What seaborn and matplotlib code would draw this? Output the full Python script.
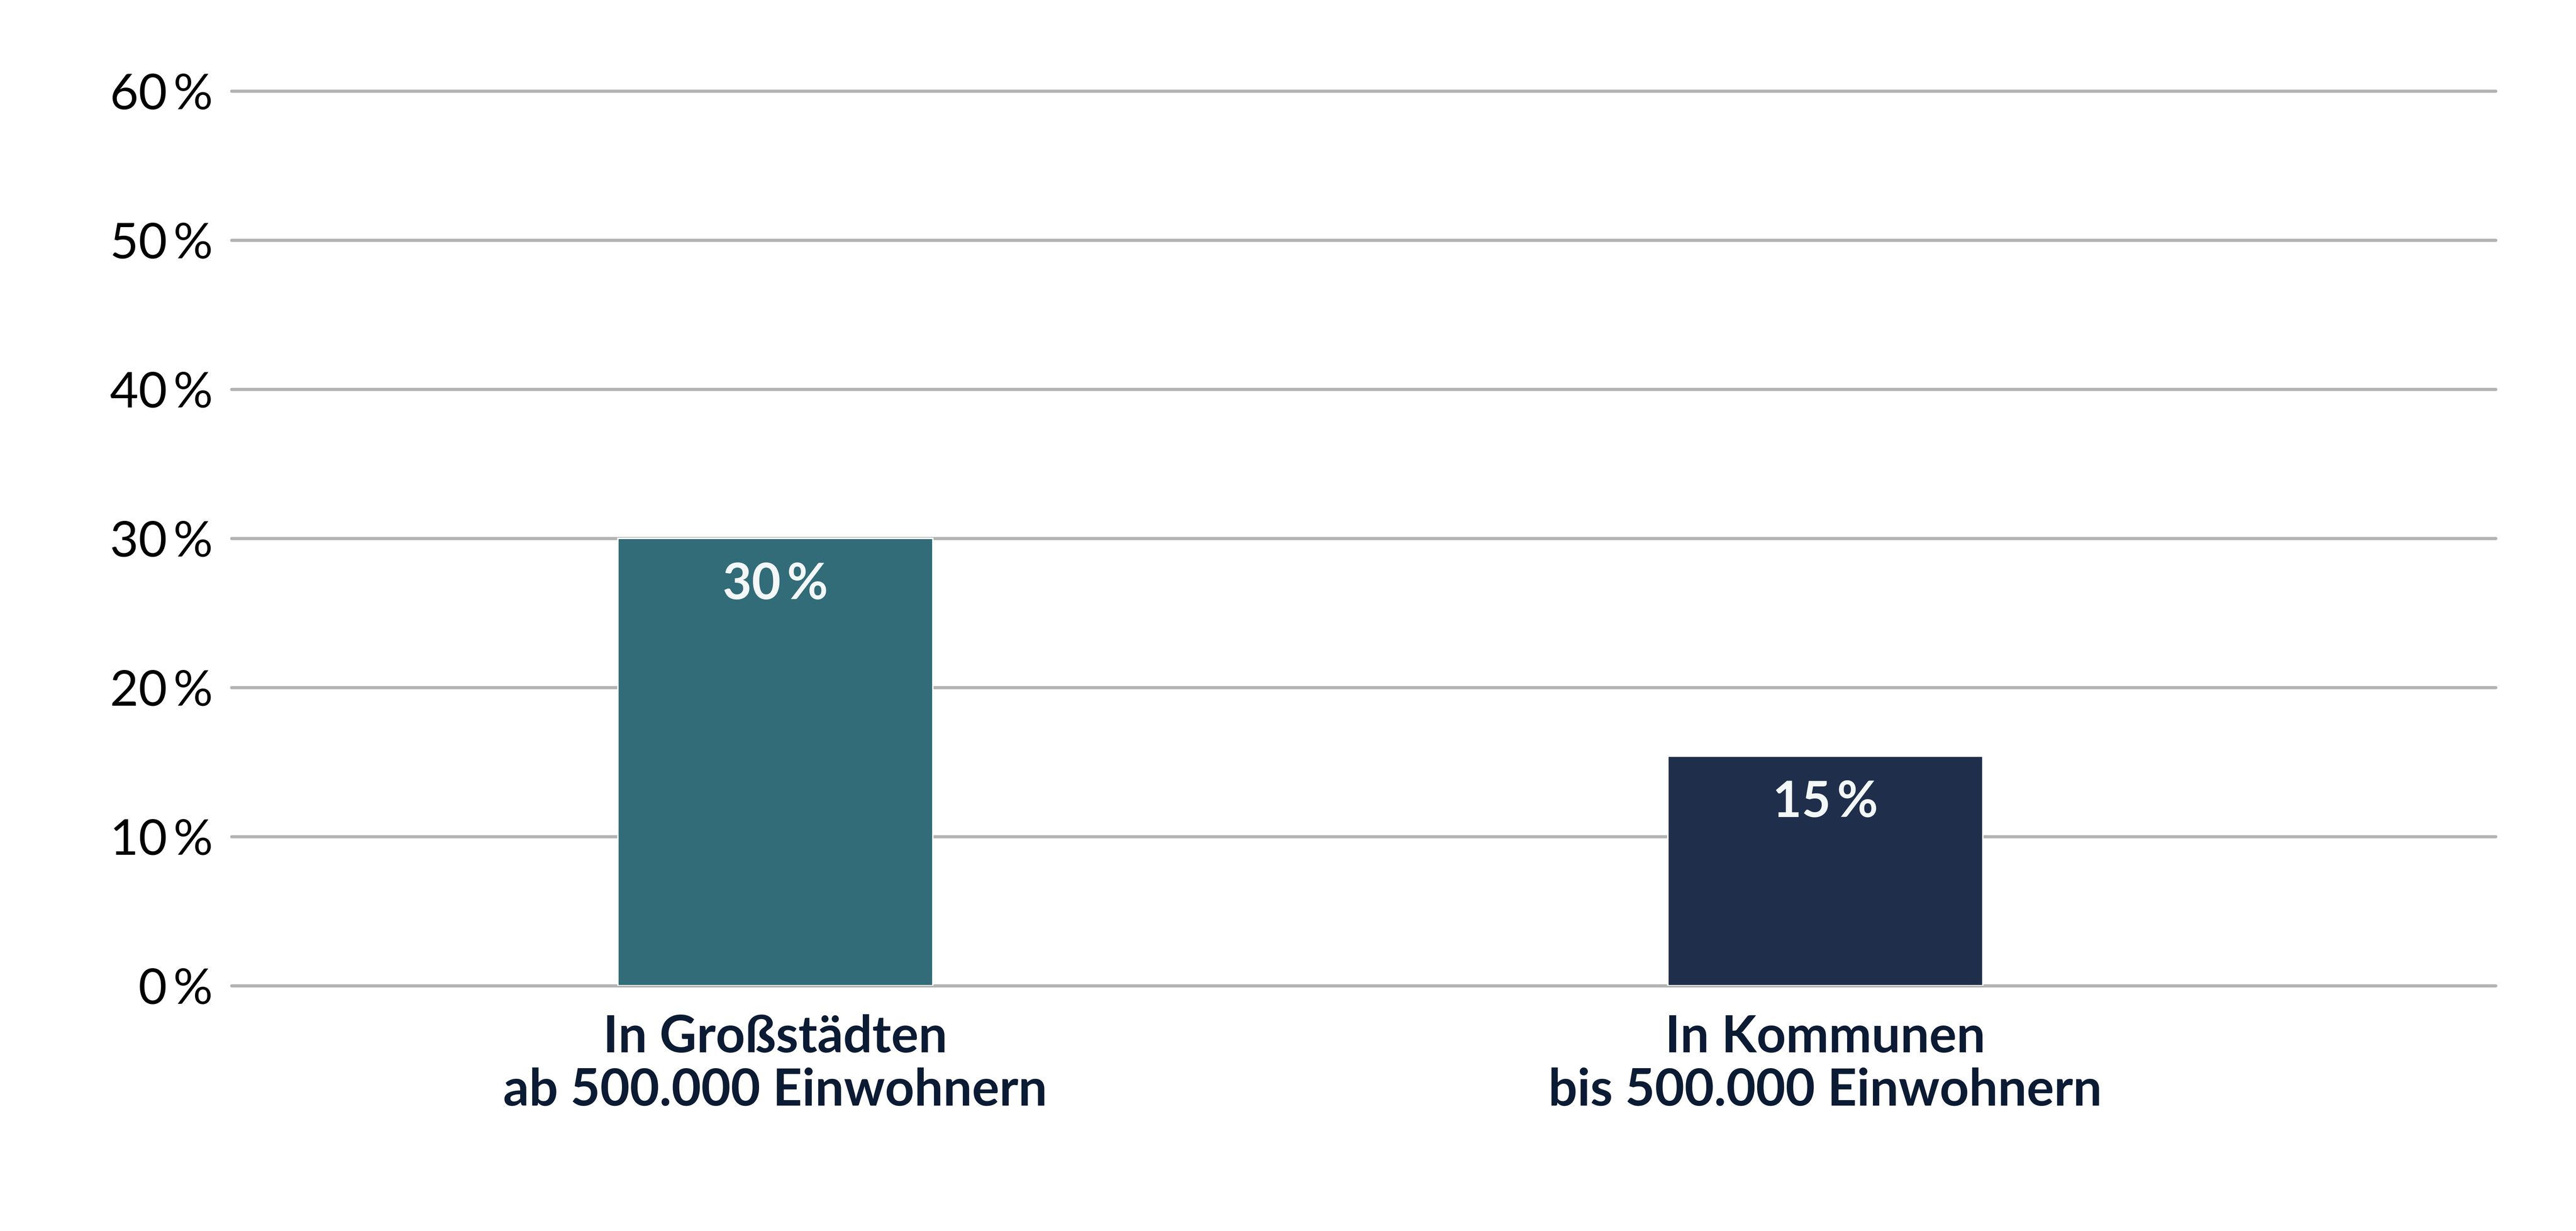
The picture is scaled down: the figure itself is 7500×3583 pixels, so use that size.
import matplotlib
matplotlib.use("Agg")
import matplotlib.pyplot as plt
import seaborn as sns
import pandas as pd

categories = ["In Großstädten\nab 500.000 Einwohnern", "In Kommunen\nbis 500.000 Einwohnern"]
values = [30.0, 15.4]
value_labels = ["30\u2009%", "15\u2009%"]
colors = ["#316C78", "#1F2F4B"]
yticks = [0, 10, 20, 30, 40, 50, 60]
ytick_labels = ["0\u2009%", "10\u2009%", "20\u2009%", "30\u2009%", "40\u2009%", "50\u2009%", "60\u2009%"]

sns.set_theme(style="white")
plt.rcParams['font.family'] = ['Lato', 'DejaVu Sans']

df = pd.DataFrame({"cat": categories, "val": values})

fig = plt.figure(figsize=(25, 3583 / 300), dpi=300)
ax = fig.add_axes([0.0899, 0.1993, 0.8789, 0.7267])

sns.barplot(data=df, x="cat", y="val", hue="cat", palette=colors, width=0.3,
            legend=False, ax=ax, saturation=1, zorder=3)

ax.set_ylim(0, 60)
ax.set_xlim(-0.5178, 1.6385)
ax.set_yticks(yticks)
ax.set_yticklabels(ytick_labels)
ax.yaxis.grid(True, color="#B3B3B3", linewidth=2.2, zorder=0)
for gl in ax.yaxis.get_gridlines():
    gl.set_clip_on(False)
ax.xaxis.grid(False)
for s in ax.spines.values():
    s.set_visible(False)
ax.set_xlabel("")
ax.set_ylabel("")
ax.tick_params(axis="y", length=0, pad=13, labelsize=34.5, labelcolor="#000000")
ax.tick_params(axis="x", length=0, pad=20, labelsize=35.7, labelcolor="#0B1B34")
for lbl in ax.get_xticklabels():
    lbl.set_fontweight("bold")
    lbl.set_linespacing(1.17)

for i, (v, t) in enumerate(zip(values, value_labels)):
    ax.annotate(t, xy=(i, v), xytext=(0, -32.5), textcoords="offset points",
                ha="center", va="center", fontsize=35, fontweight="bold",
                color="#F3F7F8", zorder=5)

fig.savefig("out.png", dpi=300, facecolor="white")
